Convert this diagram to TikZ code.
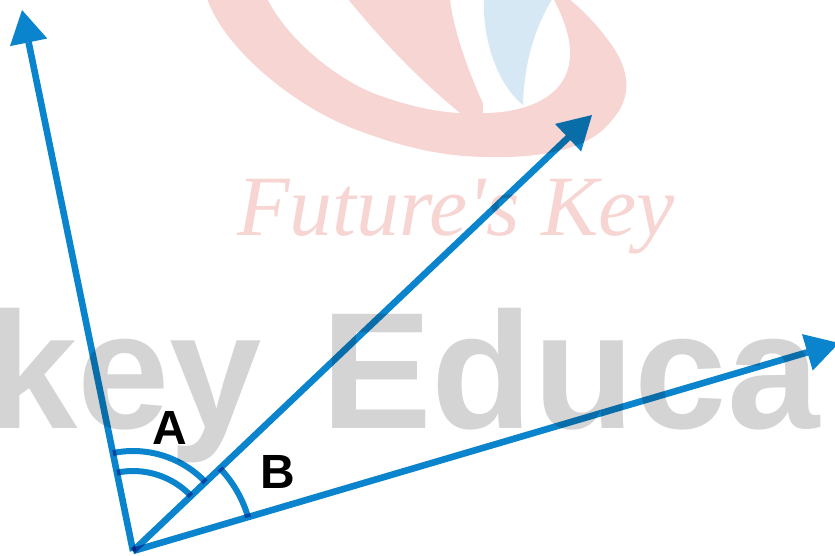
\documentclass[tikz,border=0pt]{standalone}
\usepackage{fontspec}
\setmainfont{Liberation Sans}
\newfontfamily\scriptish{Liberation Serif}
\usetikzlibrary{arrows.meta,calc}
\definecolor{arrowblue}{HTML}{0A84CC}
\definecolor{markpink}{HTML}{F6D5D2}
\definecolor{markblue}{HTML}{D6E8F4}
\definecolor{markgray}{HTML}{D4D4D4}
\tikzset{
  vec/.style={draw=arrowblue,line width=6.6pt,-{Triangle[length=33pt,width=38pt,line width=0pt,fill=arrowblue]},blend mode=multiply},
  anglearc/.style={draw=arrowblue,line width=6pt,blend mode=multiply},
  anglelabel/.style={font=\fontsize{48}{48}\bfseries\selectfont,text=black,inner sep=0pt},
}
\begin{document}
\begin{tikzpicture}[x=1pt,y=-1pt]
\useasboundingbox (0,0) rectangle (835,555);
\clip (0,0) rectangle (835,555);
% watermark logo
\fill[markpink] (207,-2) .. controls (222,45) and (290,105) .. (357,130)
  .. controls (410,150) and (450,157) .. (490,157)
  .. controls (540,158) and (590,150) .. (612,120)
  .. controls (630,100) and (632,75) .. (613,47)
  .. controls (600,28) and (585,12) .. (568,-2) -- cycle;
\fill[white] (267,-2) .. controls (285,35) and (330,75) .. (373,93)
  .. controls (405,105) and (435,112) .. (460,113)
  .. controls (425,85) and (385,45) .. (347,-2) -- cycle;
\fill[white] (450,-2) .. controls (453,30) and (470,75) .. (483,103)
  -- (483,113) .. controls (520,113) and (570,100) .. (570,53)
  .. controls (570,35) and (562,15) .. (553,-2) -- cycle;
\fill[markblue] (484,-2) .. controls (482,40) and (498,85) .. (523,105)
  .. controls (524,65) and (534,28) .. (553,-2) -- cycle;
\node[text=markpink,inner sep=0pt,anchor=center] (brand) at (456,217)
  {\scriptish\itshape\fontsize{86}{86}\selectfont Future's Key};
\node[text=markgray,inner sep=0pt,anchor=base west] (edu) at (-15,428)
  {\fontsize{166}{166}\bfseries\selectfont key\hspace{13pt} Educa};
% vectors
\coordinate (o) at (133,551);
\coordinate (tl) at (22,10);
\coordinate (tm) at (592,115);
\coordinate (tr) at (839,343);
\draw[vec] (o) -- (tl);
\draw[vec] (o) -- (tm);
\draw[vec] (o) -- (tr);
% angle marks
\draw[anglearc] ($(o)+(101.6:100 and -100)$) arc[start angle=-101.6,end angle=-43.5,radius=100];
\draw[anglearc] ($(o)+(101.6:80 and -80)$) arc[start angle=-101.6,end angle=-43.5,radius=80];
\draw[anglearc] ($(o)+(43.5:120 and -120)$) arc[start angle=-43.5,end angle=-16.35,radius=120];
\node[anglelabel] (A) at (170,428) {A};
\node[anglelabel] (B) at (278,472) {B};
\end{tikzpicture}
\end{document}
